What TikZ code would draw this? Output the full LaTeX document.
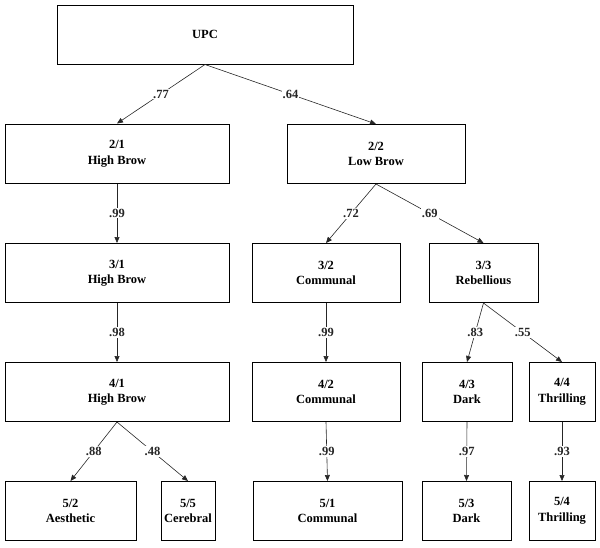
\documentclass[tikz,border=0pt]{standalone}
\usepackage{fontspec}
\setmainfont{Liberation Serif}
\usepackage{tikz}
\usetikzlibrary{arrows.meta}
\tikzset{
  ar/.style={-{Triangle[length=6pt,width=5pt]},line width=0.6pt,black!85},
  box/.style={draw,line width=1pt,align=center,inner sep=0pt,minimum height=59pt,font=\fontsize{12.5}{15.5}\selectfont\bfseries},
  wt/.style={fill=white,inner sep=1pt,font=\fontsize{12.5}{15}\selectfont\bfseries}
}

\begin{document}
\begin{tikzpicture}[x=1pt,y=-1pt]
\useasboundingbox (0,0) rectangle (600,547);
% level 1
\node[box,minimum width=296pt] (upc) at (205,34.5) {UPC};
% level 2
\node[box,minimum width=224pt] (b21) at (117,153.5) {2/1\\High Brow};
\node[box,minimum width=178pt] (b22) at (376,154) {2/2\\Low Brow};
% level 3
\node[box,minimum width=224pt] (b31) at (117,273) {3/1\\High Brow};
\node[box,minimum width=148pt] (b32) at (326,273) {3/2\\Communal};
\node[box,minimum width=109pt] (b33) at (483.5,273) {3/3\\Rebellious};
% level 4
\node[box,minimum width=224pt] (b41) at (117,392) {4/1\\High Brow};
\node[box,minimum width=148pt] (b42) at (326,392) {4/2\\Communal};
\node[box,minimum width=90pt] (b43) at (467,392) {4/3\\Dark};
\node[box,minimum width=66pt] (b44) at (562,392) {4/4\\Thrilling};
% level 5
\node[box,minimum width=131pt] (b52) at (70.5,511) {5/2\\Aesthetic};
\node[box,minimum width=54pt] (b55) at (188,511) {5/5\\Cerebral};
\node[box,minimum width=149pt] (b51) at (327.5,511) {5/1\\Communal};
\node[box,minimum width=89pt] (b53) at (466.5,511) {5/3\\Dark};
\node[box,minimum width=66pt] (b54) at (562,511) {5/4\\Thrilling};
% loadings
\draw[ar] (upc.south) -- node[wt]{.77} (b21.north);
\draw[ar] (upc.south) -- node[wt]{.64} (b22.north);
\draw[ar] (b21.south) -- node[wt]{.99} (b31.north);
\draw[ar] (b22.south) -- node[wt]{.72} (b32.north);
\draw[ar] (b22.south) -- node[wt]{.69} (b33.north);
\draw[ar] (b31.south) -- node[wt]{.98} (b41.north);
\draw[ar] (b32.south) -- node[wt]{.99} (b42.north);
\draw[ar] (b33.south) -- node[wt]{.83} (b43.north);
\draw[ar] (b33.south) -- node[wt]{.55} (b44.north);
\draw[ar] (b41.south) -- node[wt]{.88} (b52.north);
\draw[ar] (b41.south) -- node[wt]{.48} (b55.north);
\draw[ar] (b42.south) -- node[wt]{.99} (b51.north);
\draw[ar] (b43.south) -- node[wt]{.97} (b53.north);
\draw[ar] (b44.south) -- node[wt]{.93} (b54.north);
\end{tikzpicture}
\end{document}
